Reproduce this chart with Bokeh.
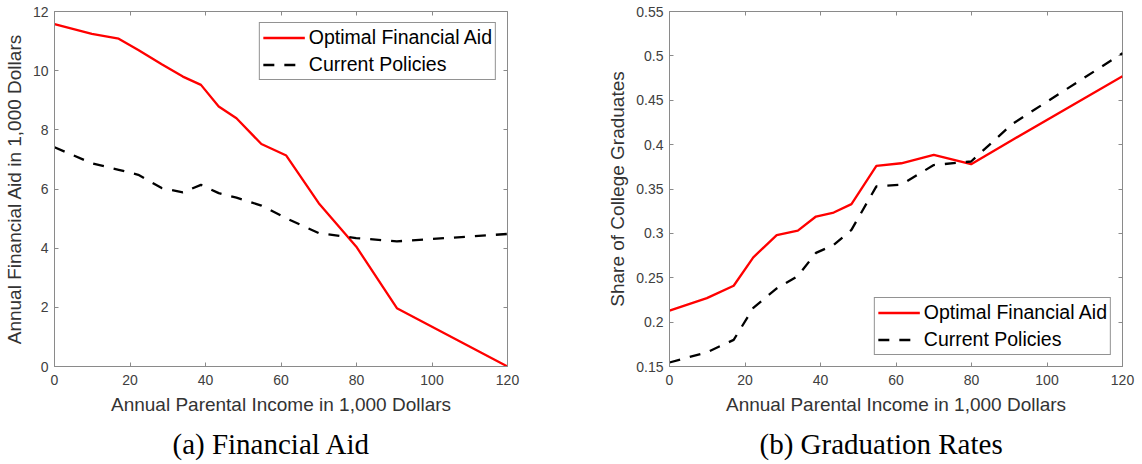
from bokeh.plotting import figure
from bokeh.layouts import row
from bokeh.models import (LinearAxis, Legend, LegendItem, Title, FixedTicker, Range1d,
                          CustomLabelingPolicy)
from bokeh.embed import file_html
from bokeh.resources import INLINE

# ---------------- data ----------------
income = [0, 9.9, 17, 22.2, 28.4, 34, 38.8, 43.5, 48.2, 54.8, 61.4, 70, 79.9, 90.7, 120]
aid_optimal = [11.57, 11.24, 11.08, 10.70, 10.22, 9.80, 9.52, 8.79, 8.39, 7.52, 7.13, 5.52, 4.06, 1.97, 0.0]
aid_current = [7.41, 6.87, 6.65, 6.48, 6.03, 5.89, 6.14, 5.86, 5.71, 5.44, 5.01, 4.51, 4.34, 4.23, 4.48]
grad_optimal = [0.213, 0.227, 0.241, 0.273, 0.298, 0.303, 0.319, 0.3235, 0.333, 0.376, 0.379, 0.3885, 0.378, 0.405, 0.477]
grad_current = [0.1545, 0.166, 0.180, 0.216, 0.238, 0.252, 0.278, 0.287, 0.304, 0.353, 0.355, 0.377, 0.381, 0.423, 0.503]

x_ticks = [0, 20, 40, 60, 80, 100, 120]
aid_ticks = [0, 2, 4, 6, 8, 10, 12]
aid_tick_labels = ["0", "2", "4", "6", "8", "10", "12"]
grad_ticks = [0.15, 0.2, 0.25, 0.3, 0.35, 0.4, 0.45, 0.5, 0.55]
grad_tick_labels = ["0.15", "0.2", "0.25", "0.3", "0.35", "0.4", "0.45", "0.5", "0.55"]

series_names = ["Optimal Financial Aid", "Current Policies"]
x_label = "Annual Parental Income in 1,000 Dollars"
y_label_a = "Annual Financial Aid in 1,000 Dollars"
y_label_b = "Share of College Graduates"
caption_a = "(a) Financial Aid"
caption_b = "(b) Graduation Rates"

# ---------------- style ----------------
SANS = "Liberation Sans"
SERIF = "Liberation Serif"
AXIS_GRAY = "#8a8a8a"
TEXT_GRAY = "#404040"
LABEL_GRAY = "#333333"


def style_axis(ax):
    ax.axis_line_color = AXIS_GRAY
    ax.major_tick_line_color = AXIS_GRAY
    ax.major_tick_in = 4
    ax.major_tick_out = 0
    ax.minor_tick_line_color = None
    ax.major_label_text_font = SANS
    ax.major_label_text_color = TEXT_GRAY
    ax.major_label_text_font_size = "14px"
    ax.axis_label_text_font = SANS
    ax.axis_label_text_font_size = "19px"
    ax.axis_label_text_font_style = "normal"
    ax.axis_label_text_color = LABEL_GRAY


def mirror_axis(ticks):
    ax = LinearAxis(ticker=FixedTicker(ticks=ticks))
    ax.axis_line_color = None
    ax.major_tick_line_color = AXIS_GRAY
    ax.major_tick_in = 4
    ax.major_tick_out = 0
    ax.minor_tick_line_color = None
    ax.major_label_standoff = 0
    ax.major_label_policy = CustomLabelingPolicy(code="return new Set()")
    return ax


def make_panel(y_opt, y_cur, y_range, y_ticks, y_tick_labels, y_label, caption,
               legend_loc, min_left, min_right, cap_offset):
    p = figure(frame_width=453, frame_height=355,
               x_range=Range1d(0, 120), y_range=Range1d(*y_range),
               output_backend="svg", toolbar_location=None,
               min_border_left=min_left, min_border_right=min_right,
               min_border_top=10, min_border_bottom=10)
    p.grid.visible = False
    p.outline_line_color = AXIS_GRAY
    p.background_fill_color = "white"
    p.border_fill_color = "white"

    p.xaxis.ticker = FixedTicker(ticks=x_ticks)
    p.yaxis.ticker = FixedTicker(ticks=y_ticks)
    p.yaxis.major_label_overrides = {t: s for t, s in zip(y_ticks, y_tick_labels)}
    p.xaxis.axis_label = x_label
    p.yaxis.axis_label = y_label
    style_axis(p.xaxis[0])
    style_axis(p.yaxis[0])
    p.xaxis.major_label_standoff = 8
    p.xaxis.axis_label_standoff = 6
    p.yaxis.major_label_standoff = 6
    p.yaxis.axis_label_standoff = 5

    p.add_layout(mirror_axis(x_ticks), "above")
    p.add_layout(mirror_axis(y_ticks), "right")

    r1 = p.line(income, y_opt, line_color="#ff0000", line_width=2.3)
    r2 = p.line(income, y_cur, line_color="black", line_width=2.3, line_dash="11 10")

    legend = Legend(items=[LegendItem(label=series_names[0], renderers=[r1]),
                           LegendItem(label=series_names[1], renderers=[r2])],
                    location=legend_loc, margin=11, padding=3, spacing=4,
                    glyph_width=42, glyph_height=21, label_height=21, label_standoff=4,
                    label_text_font=SANS, label_text_font_size="19.5px",
                    label_text_color="black",
                    border_line_color="#262626", border_line_width=1,
                    background_fill_color="white", background_fill_alpha=1)
    p.add_layout(legend)

    cap = Title(text=caption, align="left", offset=cap_offset, standoff=16,
                vertical_align="bottom", text_baseline="alphabetic",
                text_font=SERIF, text_font_size="29px", text_font_style="normal",
                text_color="black")
    p.add_layout(cap, "below")
    return p


p1 = make_panel(aid_optimal, aid_current, (0, 12), aid_ticks, aid_tick_labels,
                y_label_a, caption_a, "top_right", 54, 93, 118)
p2 = make_panel(grad_optimal, grad_current, (0.15, 0.55), grad_ticks, grad_tick_labels,
                y_label_b, caption_b, "bottom_right", 69, 14, 90)

layout = row(p1, p2)
open("out.html", "w").write(file_html(layout, INLINE))
